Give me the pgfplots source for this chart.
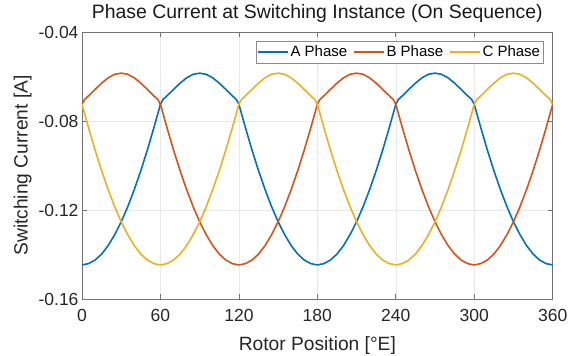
\documentclass[border=0pt]{standalone}
\usepackage{pgfplots}
\pgfplotsset{compat=1.18}
\usepackage{pgfplotstable}
\usepackage{fontspec}
\setmainfont{Liberation Sans}
\definecolor{cA}{rgb}{0,0.447,0.741}
\definecolor{cB}{rgb}{0.85,0.325,0.098}
\definecolor{cC}{rgb}{0.929,0.694,0.125}
\pgfplotstableread{
x y
0 -0.1447
5 -0.1441
10 -0.1425
15 -0.1398
20 -0.1360
25 -0.1311
30 -0.1253
35 -0.1185
40 -0.1108
45 -0.1023
50 -0.0930
55 -0.0830
58 -0.0767
60 -0.0725
62 -0.0703
65 -0.0687
70 -0.0658
75 -0.0630
80 -0.0606
85 -0.0590
90 -0.0585
95 -0.0590
100 -0.0606
105 -0.0630
110 -0.0658
115 -0.0687
118 -0.0703
120 -0.0725
122 -0.0767
125 -0.0830
130 -0.0930
135 -0.1023
140 -0.1108
145 -0.1185
150 -0.1253
155 -0.1311
160 -0.1360
165 -0.1398
170 -0.1425
175 -0.1441
180 -0.1447
185 -0.1441
190 -0.1425
195 -0.1398
200 -0.1360
205 -0.1311
210 -0.1253
215 -0.1185
220 -0.1108
225 -0.1023
230 -0.0930
235 -0.0830
238 -0.0767
240 -0.0725
242 -0.0703
245 -0.0687
250 -0.0658
255 -0.0630
260 -0.0606
265 -0.0590
270 -0.0585
275 -0.0590
280 -0.0606
285 -0.0630
290 -0.0658
295 -0.0687
298 -0.0703
300 -0.0725
302 -0.0767
305 -0.0830
310 -0.0930
315 -0.1023
320 -0.1108
325 -0.1185
330 -0.1253
335 -0.1311
340 -0.1360
345 -0.1398
350 -0.1425
355 -0.1441
360 -0.1447
}\tabA
\pgfplotstableread{
x y
0 -0.0725
2 -0.0703
5 -0.0687
10 -0.0658
15 -0.0630
20 -0.0606
25 -0.0590
30 -0.0585
35 -0.0590
40 -0.0606
45 -0.0630
50 -0.0658
55 -0.0687
58 -0.0703
60 -0.0725
62 -0.0767
65 -0.0830
70 -0.0930
75 -0.1023
80 -0.1108
85 -0.1185
90 -0.1253
95 -0.1311
100 -0.1360
105 -0.1398
110 -0.1425
115 -0.1441
120 -0.1447
125 -0.1441
130 -0.1425
135 -0.1398
140 -0.1360
145 -0.1311
150 -0.1253
155 -0.1185
160 -0.1108
165 -0.1023
170 -0.0930
175 -0.0830
178 -0.0767
180 -0.0725
182 -0.0703
185 -0.0687
190 -0.0658
195 -0.0630
200 -0.0606
205 -0.0590
210 -0.0585
215 -0.0590
220 -0.0606
225 -0.0630
230 -0.0658
235 -0.0687
238 -0.0703
240 -0.0725
242 -0.0767
245 -0.0830
250 -0.0930
255 -0.1023
260 -0.1108
265 -0.1185
270 -0.1253
275 -0.1311
280 -0.1360
285 -0.1398
290 -0.1425
295 -0.1441
300 -0.1447
305 -0.1441
310 -0.1425
315 -0.1398
320 -0.1360
325 -0.1311
330 -0.1253
335 -0.1185
340 -0.1108
345 -0.1023
350 -0.0930
355 -0.0830
358 -0.0767
360 -0.0725
}\tabB
\pgfplotstableread{
x y
0 -0.0725
2 -0.0767
5 -0.0830
10 -0.0930
15 -0.1023
20 -0.1108
25 -0.1185
30 -0.1253
35 -0.1311
40 -0.1360
45 -0.1398
50 -0.1425
55 -0.1441
60 -0.1447
65 -0.1441
70 -0.1425
75 -0.1398
80 -0.1360
85 -0.1311
90 -0.1253
95 -0.1185
100 -0.1108
105 -0.1023
110 -0.0930
115 -0.0830
118 -0.0767
120 -0.0725
122 -0.0703
125 -0.0687
130 -0.0658
135 -0.0630
140 -0.0606
145 -0.0590
150 -0.0585
155 -0.0590
160 -0.0606
165 -0.0630
170 -0.0658
175 -0.0687
178 -0.0703
180 -0.0725
182 -0.0767
185 -0.0830
190 -0.0930
195 -0.1023
200 -0.1108
205 -0.1185
210 -0.1253
215 -0.1311
220 -0.1360
225 -0.1398
230 -0.1425
235 -0.1441
240 -0.1447
245 -0.1441
250 -0.1425
255 -0.1398
260 -0.1360
265 -0.1311
270 -0.1253
275 -0.1185
280 -0.1108
285 -0.1023
290 -0.0930
295 -0.0830
298 -0.0767
300 -0.0725
302 -0.0703
305 -0.0687
310 -0.0658
315 -0.0630
320 -0.0606
325 -0.0590
330 -0.0585
335 -0.0590
340 -0.0606
345 -0.0630
350 -0.0658
355 -0.0687
358 -0.0703
360 -0.0725
}\tabC
\begin{document}
\begin{tikzpicture}
\useasboundingbox (-82pt,-57pt) rectangle (492pt,299pt);
\begin{axis}[
  at={(0pt,0pt)}, anchor=south west,
  scale only axis, width=470.7pt, height=267pt,
  xmin=0, xmax=360, ymin=-0.16, ymax=-0.04,
  xtick={0,60,120,180,240,300,360},
  xticklabels={0,60,120,180,240,300,360},
  ytick={-0.16,-0.12,-0.08,-0.04},
  yticklabels={-0.16,-0.12,-0.08,-0.04},
  /pgf/number format/assume math mode=true,
  tick align=inside, tick pos=both, major tick length=5pt,
  grid=major, major grid style={black!9, line width=0.5pt},
  axis line style={black!55, line width=0.8pt},
  tick style={black!55, line width=0.7pt},
  ticklabel style={font=\fontsize{17.5}{20}\selectfont, text=black!85},
  xticklabel style={yshift=-7pt},
  title={Phase Current at Switching Instance (On Sequence)},
  title style={font=\fontsize{19.4}{22}\selectfont, text=black!90},
  xlabel={Rotor Position [°E]},
  ylabel={Switching Current [A]},
  label style={font=\fontsize{19.2}{22}\selectfont, text=black!85},
  xlabel style={yshift=-8pt},
  legend style={at={(1,1)}, xshift=-9.4pt, yshift=-8.7pt, anchor=north east,
    legend columns=3, font=\fontsize{15}{17}\selectfont, draw=black!45,
    inner xsep=1pt, inner ysep=3pt, row sep=0pt,
    /tikz/every even column/.append style={column sep=4pt}},
  legend cell align=left,
  legend image code/.code={\draw[#1, line width=1.3pt] (0pt,0pt) -- (30pt,0pt);},
  every axis plot/.append style={line width=1.6pt, line join=round},
]
\addplot[cA] table[x=x,y=y] {\tabA};
\addplot[cB] table[x=x,y=y] {\tabB};
\addplot[cC] table[x=x,y=y] {\tabC};
\legend{A Phase, B Phase, C Phase}
\end{axis}
\end{tikzpicture}
\end{document}
